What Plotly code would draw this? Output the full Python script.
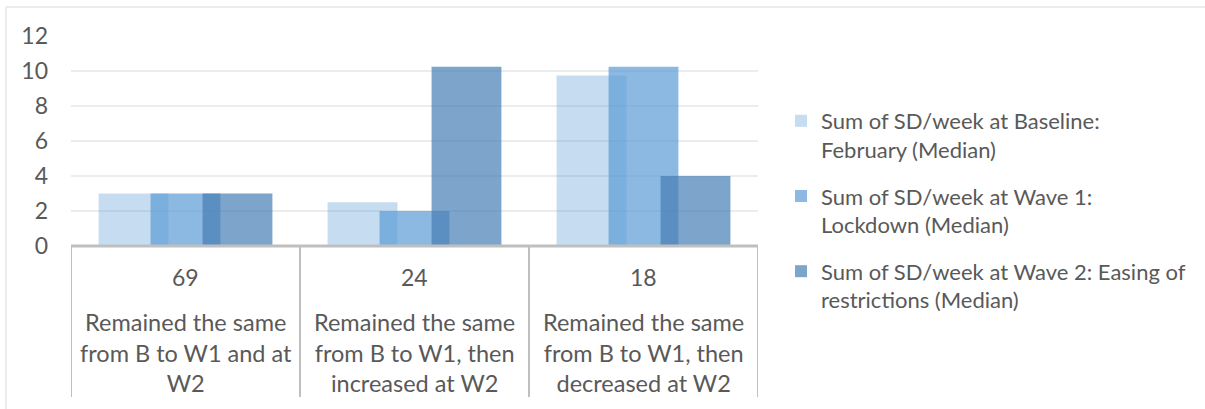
import plotly.graph_objects as go

# Patient groups (n) and their change pattern across the three waves
group_sizes = ["69", "24", "18"]
group_labels = [
    "Remained the same<br>from B to W1 and at<br>W2",
    "Remained the same<br>from B to W1, then<br>increased at W2",
    "Remained the same<br>from B to W1, then<br>decreased at W2",
]

series_names = [
    "Sum of SD/week at Baseline:<br>February (Median)",
    "Sum of SD/week at Wave 1:<br>Lockdown (Median)",
    "Sum of SD/week at Wave 2: Easing of<br>restrictions (Median)",
]
baseline = [3, 2.5, 9.75]
wave1 = [3, 2, 10.25]
wave2 = [3, 10.25, 4]
series_values = [baseline, wave1, wave2]

series_colors = [
    "rgba(91,155,213,0.35)",
    "rgba(91,155,213,0.70)",
    "rgba(70,125,180,0.70)",
]

FONT = "Lato, 'Open Sans', sans-serif"
TEXT = "#595959"
AXIS = "#bfbfbf"

W, H = 1205, 409
M_L, M_R, M_T, M_B = 71, 447, 36, 163
plot_h = H - M_T - M_B

# Overlapping bars: each bar is ~30% of a category wide, shifted by ~23%
bar_w = 0.305
bar_step = 0.227
first_off = -(bar_w + 2 * bar_step) / 2

fig = go.Figure()
for i, (name, vals, col) in enumerate(zip(series_names, series_values, series_colors)):
    fig.add_trace(go.Bar(
        x=list(range(len(group_sizes))),
        y=vals,
        name=name,
        width=bar_w,
        offset=first_off + i * bar_step,
        marker=dict(color=col, line=dict(width=0)),
        legendgroup=f"s{i}",
    ))

def py(pix):
    """Pixel row (from top of the page) -> paper y."""
    return (H - M_B - pix) / plot_h

def px(pix):
    """Pixel column -> paper x."""
    return (pix - M_L) / (W - M_L - M_R)

shapes = []
n = len(group_sizes)
# category table: top rule and vertical dividers
shapes.append(dict(type="line", xref="x", yref="paper", x0=-0.5, x1=n - 0.5,
                   y0=py(246), y1=py(246), line=dict(color=AXIS, width=3)))
for k in range(n + 1):
    shapes.append(dict(type="line", xref="x", yref="paper", x0=k - 0.5, x1=k - 0.5,
                       y0=py(246), y1=py(397), line=dict(color=AXIS, width=2)))
# chart-area border (top and left edges)
shapes.append(dict(type="line", xref="paper", yref="paper",
                   x0=px(6), x1=px(W), y0=py(7), y1=py(7),
                   line=dict(color="#d9d9d9", width=1)))
shapes.append(dict(type="line", xref="paper", yref="paper",
                   x0=px(6), x1=px(6), y0=py(7), y1=py(H + 2),
                   line=dict(color="#d9d9d9", width=1)))

annotations = []
for k, (cnt, lab) in enumerate(zip(group_sizes, group_labels)):
    annotations.append(dict(x=k, y=py(277), xref="x", yref="paper", text=cnt,
                            showarrow=False, yanchor="middle",
                            font=dict(family=FONT, size=23, color=TEXT)))
    annotations.append(dict(x=k, y=py(352), xref="x", yref="paper", text=lab,
                            showarrow=False, yanchor="middle", align="center",
                            font=dict(family=FONT, size=23.5, color=TEXT)))

fig.update_layout(
    width=W, height=H,
    margin=dict(l=M_L, r=M_R, t=M_T, b=M_B, pad=0, autoexpand=False),
    barmode="overlay",
    plot_bgcolor="white", paper_bgcolor="white",
    font=dict(family=FONT, size=22, color=TEXT),
    xaxis=dict(range=[-0.5, n - 0.5], showticklabels=False, showgrid=False,
               zeroline=False, showline=False, ticks=""),
    yaxis=dict(range=[0, 12], dtick=2, showgrid=True, gridcolor="#ececec",
               gridwidth=1.5, zeroline=False, showline=False, ticks="",
               ticklabelstandoff=22, tickfont=dict(family=FONT, size=23, color=TEXT)),
    showlegend=True,
    legend=dict(x=px(781), xanchor="left",
                y=py(100), yanchor="top", valign="top",
                traceorder="grouped", tracegroupgap=15, maxheight=380,
                font=dict(family=FONT, size=22, color=TEXT),
                bgcolor="rgba(0,0,0,0)"),
    shapes=shapes,
    annotations=annotations,
)

fig.write_html("out.html")
